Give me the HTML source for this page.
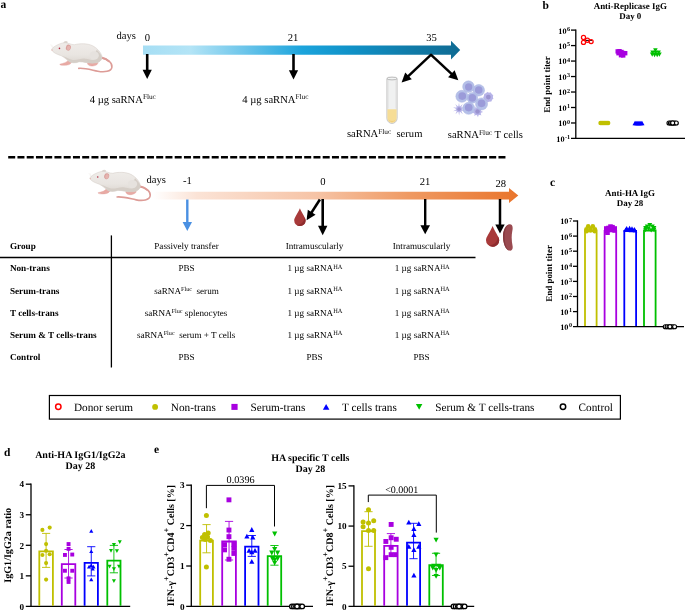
<!DOCTYPE html>
<html><head><meta charset="utf-8"><title>Figure</title>
<style>
html,body{margin:0;padding:0;background:#fff;}
body{width:685px;height:610px;overflow:hidden;font-family:"Liberation Serif",serif;}
svg{display:block;will-change:transform}
text{font-family:"Liberation Serif",serif;fill:#000;text-rendering:geometricPrecision}
.b{font-weight:bold}
</style></head><body>
<svg width="685" height="610" viewBox="0 0 685 610">
<defs>
<linearGradient id="gb" x1="0" x2="1" y1="0" y2="0">
<stop offset="0" stop-color="#a6def4"/><stop offset="0.15" stop-color="#b3e4f6"/><stop offset="0.32" stop-color="#6cc5ea"/><stop offset="0.5" stop-color="#1ca4dc"/><stop offset="0.65" stop-color="#1092c8"/><stop offset="0.85" stop-color="#107aa7"/><stop offset="1" stop-color="#0f6b93"/>
</linearGradient>
<linearGradient id="go" x1="0" x2="1" y1="0" y2="0">
<stop offset="0" stop-color="#ffffff"/><stop offset="0.12" stop-color="#fbe3d6"/><stop offset="0.45" stop-color="#f6c3a5"/><stop offset="0.7" stop-color="#ef9a63"/><stop offset="1" stop-color="#e9752c"/>
</linearGradient>
<linearGradient id="mb" x1="0" x2="0" y1="0" y2="1"><stop offset="0" stop-color="#efece9"/><stop offset="0.6" stop-color="#e9e5e1"/><stop offset="1" stop-color="#dcd6d0"/></linearGradient>
</defs>
<rect width="685" height="610" fill="#fff"/>

<text x="0.4" y="8.3" font-size="11.5" class="b">a</text>
<g transform="translate(40,30) scale(0.1314)">
<path d="M468 212 C520 222 552 252 547 284 C542 316 490 324 440 314 C390 304 340 288 295 292" fill="none" stroke="#dd9c97" stroke-width="12" stroke-linecap="round"/>
<path d="M466 210 C490 214 510 224 524 238" fill="none" stroke="#dd9c97" stroke-width="15" stroke-linecap="round"/>
<path d="M214 230 C206 246 180 253 150 260 C152 271 190 271 216 265 C230 261 240 252 244 240 Z" fill="#e8aaa4" stroke="#dfa09a" stroke-width="3" stroke-linejoin="round"/>
<path d="M362 250 C358 268 385 279 410 273 C432 268 444 258 440 243 Z" fill="#e8aaa4" stroke="#dfa09a" stroke-width="3"/>
<path d="M178 102 C180 84 202 78 212 92 C206 102 196 110 186 112 Z" fill="#dcd5cf"/>
<path d="M88 150 C95 130 135 108 175 98 C200 90 240 114 262 112 C300 102 360 100 400 120 C440 140 470 180 472 205 C474 230 450 248 420 252 C380 258 330 240 300 242 C270 254 235 252 218 238 C200 222 180 205 160 195 C130 185 95 170 88 150 Z" fill="url(#mb)" stroke="#d0c9c2" stroke-width="3.5" stroke-linejoin="round"/>
<path d="M432 150 C452 170 470 190 471 206 C473 230 450 247 420 251 C380 257 330 239 300 241 C270 252 240 250 226 242 C210 228 190 210 170 198 C200 205 225 225 250 228 C290 230 310 215 345 218 C375 222 395 232 415 226 C400 200 420 175 432 150 Z" fill="#d5cec7"/>
<ellipse cx="412" cy="194" rx="36" ry="32" fill="#e6e2de"/>
<ellipse cx="216" cy="134" rx="19" ry="23" fill="#d9a19d" transform="rotate(15 216 134)"/>
<ellipse cx="218" cy="136" rx="13" ry="17" fill="#e6b4b0" transform="rotate(15 218 136)"/>
<circle cx="148" cy="140" r="6" fill="#b02c44"/>
<circle cx="92" cy="152" r="5" fill="#eab8b4"/>
<path d="M98 140 L80 110 M100 142 L90 112" stroke="#e4dfda" stroke-width="2" fill="none"/>
</g>
<text x="116.5" y="39.3" font-size="10.6">days</text>
<text x="147.4" y="40.6" font-size="10.6" text-anchor="middle">0</text>
<text x="293" y="40.6" font-size="10.6" text-anchor="middle">21</text>
<text x="431.5" y="41" font-size="10.6" text-anchor="middle">35</text>
<path d="M143 45.5 H451 V40.8 L460.2 50.1 L451 59.5 V54.7 H143 Z" fill="url(#gb)"/>
<path d="M147.2 54 V70.7" stroke="#000" stroke-width="2.6" fill="none"/>
<path d="M142.6 69.7 H151.79999999999998 L147.2 78.9 Z" fill="#000"/>
<path d="M293.5 54 V71.3" stroke="#000" stroke-width="2.6" fill="none"/>
<path d="M288.9 70.3 H298.1 L293.5 79.6 Z" fill="#000"/>
<path d="M431.40 54.30 L407.78 76.57" stroke="#000" stroke-width="2.5" fill="none"/>
<path d="M405.22 72.39 L411.80 79.37 L401.60 82.40 Z" fill="#000"/>
<path d="M430.60 54.30 L452.09 74.39" stroke="#000" stroke-width="2.5" fill="none"/>
<path d="M448.08 77.22 L454.64 70.21 L458.30 80.20 Z" fill="#000"/>
<text x="89.7" y="102.8" font-size="10.6" text-anchor="start" xml:space="preserve">4 µg saRNA<tspan font-size="7.30" dy="-3.60">Fluc</tspan></text>
<text x="242.3" y="102.7" font-size="10.6" text-anchor="start" xml:space="preserve">4 µg saRNA<tspan font-size="7.30" dy="-3.60">Fluc</tspan></text>
<text x="347" y="136.9" font-size="10.6" text-anchor="start" xml:space="preserve">saRNA<tspan font-size="7.30" dy="-3.30">Fluc</tspan><tspan dy="3.30">  serum</tspan></text>
<text x="447.8" y="137.9" font-size="10.6" text-anchor="start" xml:space="preserve">saRNA<tspan font-size="7.40" dy="-3.30">Fluc</tspan><tspan dy="3.30"> T cells</tspan></text>
<g>
<path d="M386.9 78.6 V118.3 A5.1 5.1 0 0 0 397.1 118.3 V78.6 Z" fill="#f0f1f1" stroke="#b9b9b9" stroke-width="0.8"/>
<path d="M387.4 109.3 H396.6 V118.3 A4.6 4.6 0 0 1 387.4 118.3 Z" fill="#f6dd96"/>
<path d="M388.2 119.5 A4.2 4.2 0 0 0 395.8 119.5 A6 6 0 0 1 388.2 119.5 Z" fill="#efcb7a"/>
<path d="M388.4 80.5 V108.5 M395.6 80.5 V108.5" stroke="#e2e3e3" stroke-width="0.7" fill="none"/>
<ellipse cx="392" cy="78.5" rx="5.1" ry="1.4" fill="#f3f4f4" stroke="#a9a9a9" stroke-width="0.8"/>
</g>
<g>
<polygon points="493.59,98.70 491.53,99.48 491.33,101.68 489.25,100.95 487.69,102.51 486.56,100.61 484.37,100.80 484.72,98.62 482.92,97.36 484.59,95.92 484.02,93.79 486.23,93.76 487.16,91.76 488.87,93.16 490.87,92.23 491.28,94.40 493.41,94.97 492.33,96.89" fill="#bcb9ea"/>
<circle cx="488.37" cy="97.09" r="4.66" fill="#b7b4e8"/>
<circle cx="488.37" cy="97.09" r="2.41" fill="#9a93cf"/>
<polygon points="465.04,110.99 461.06,110.55 462.81,114.15 459.85,111.46 459.14,115.40 458.33,111.48 455.45,114.26 457.09,110.61 453.13,111.16 456.60,109.17 453.07,107.29 457.05,107.72 455.30,104.12 458.26,106.81 458.97,102.87 459.78,106.79 462.67,104.02 461.02,107.66 464.99,107.12 461.51,109.10" fill="#bcb9ea"/>
<circle cx="459.06" cy="109.14" r="2.89" fill="#b7b4e8"/>
<circle cx="459.06" cy="109.14" r="1.77" fill="#9a93cf"/>
<polygon points="483.12,112.11 480.36,112.91 481.45,115.57 478.82,114.41 477.95,117.15 476.68,114.57 474.25,116.11 474.93,113.31 472.08,112.93 474.41,111.23 472.47,109.11 475.34,109.30 475.22,106.42 477.30,108.41 479.05,106.13 479.36,109.00 482.18,108.38 480.57,110.77" fill="#bcb9ea"/>
<circle cx="477.53" cy="111.55" r="3.69" fill="#b7b4e8"/>
<circle cx="477.53" cy="111.55" r="2.25" fill="#9a93cf"/>
<circle cx="478.73" cy="90.26" r="5.78" fill="#b5c0e8" stroke="#a8b3e0" stroke-width="0.5"/>
<circle cx="478.73" cy="89.94" r="3.78" fill="#9b9bd9"/>
<circle cx="468.45" cy="86.65" r="5.78" fill="#b5c0e8" stroke="#a8b3e0" stroke-width="0.5"/>
<circle cx="468.69" cy="87.05" r="3.69" fill="#9b9bd9"/>
<circle cx="472.31" cy="97.89" r="5.30" fill="#b5c0e8" stroke="#a8b3e0" stroke-width="0.5"/>
<circle cx="472.31" cy="97.89" r="3.78" fill="#9b9bd9"/>
<circle cx="461.87" cy="96.29" r="6.02" fill="#b5c0e8" stroke="#a8b3e0" stroke-width="0.5"/>
<circle cx="462.27" cy="96.04" r="3.86" fill="#9b9bd9"/>
<circle cx="481.55" cy="103.92" r="6.02" fill="#b5c0e8" stroke="#a8b3e0" stroke-width="0.5"/>
<circle cx="481.55" cy="103.27" r="3.86" fill="#9b9bd9"/>
<circle cx="468.69" cy="108.33" r="6.02" fill="#b5c0e8" stroke="#a8b3e0" stroke-width="0.5"/>
<circle cx="468.69" cy="107.53" r="3.86" fill="#9b9bd9"/>
</g>
<path d="M8.2 157.3 H506" stroke="#000" stroke-width="2.6" stroke-dasharray="7 2.25" fill="none"/>
<g transform="translate(78.3,158.6) scale(0.1314)">
<path d="M468 212 C520 222 552 252 547 284 C542 316 490 324 440 314 C390 304 340 288 295 292" fill="none" stroke="#dd9c97" stroke-width="12" stroke-linecap="round"/>
<path d="M466 210 C490 214 510 224 524 238" fill="none" stroke="#dd9c97" stroke-width="15" stroke-linecap="round"/>
<path d="M214 230 C206 246 180 253 150 260 C152 271 190 271 216 265 C230 261 240 252 244 240 Z" fill="#e8aaa4" stroke="#dfa09a" stroke-width="3" stroke-linejoin="round"/>
<path d="M362 250 C358 268 385 279 410 273 C432 268 444 258 440 243 Z" fill="#e8aaa4" stroke="#dfa09a" stroke-width="3"/>
<path d="M178 102 C180 84 202 78 212 92 C206 102 196 110 186 112 Z" fill="#dcd5cf"/>
<path d="M88 150 C95 130 135 108 175 98 C200 90 240 114 262 112 C300 102 360 100 400 120 C440 140 470 180 472 205 C474 230 450 248 420 252 C380 258 330 240 300 242 C270 254 235 252 218 238 C200 222 180 205 160 195 C130 185 95 170 88 150 Z" fill="url(#mb)" stroke="#d0c9c2" stroke-width="3.5" stroke-linejoin="round"/>
<path d="M432 150 C452 170 470 190 471 206 C473 230 450 247 420 251 C380 257 330 239 300 241 C270 252 240 250 226 242 C210 228 190 210 170 198 C200 205 225 225 250 228 C290 230 310 215 345 218 C375 222 395 232 415 226 C400 200 420 175 432 150 Z" fill="#d5cec7"/>
<ellipse cx="412" cy="194" rx="36" ry="32" fill="#e6e2de"/>
<ellipse cx="216" cy="134" rx="19" ry="23" fill="#d9a19d" transform="rotate(15 216 134)"/>
<ellipse cx="218" cy="136" rx="13" ry="17" fill="#e6b4b0" transform="rotate(15 218 136)"/>
<circle cx="148" cy="140" r="6" fill="#b02c44"/>
<circle cx="92" cy="152" r="5" fill="#eab8b4"/>
<path d="M98 140 L80 110 M100 142 L90 112" stroke="#e4dfda" stroke-width="2" fill="none"/>
</g>
<text x="146.5" y="183" font-size="10.6">days</text>
<text x="187.5" y="184.3" font-size="10.6" text-anchor="middle">-1</text>
<text x="322.8" y="185.4" font-size="10.6" text-anchor="middle">0</text>
<text x="425" y="185" font-size="10.6" text-anchor="middle">21</text>
<text x="500.7" y="186.5" font-size="10.6" text-anchor="middle">28</text>
<path d="M153 191.7 H509 V188 L518.3 195.5 L509 203 V199.5 H153 Z" fill="url(#go)"/>
<path d="M187.3 199.5 V223" stroke="#4a90e2" stroke-width="2.4" fill="none"/>
<path d="M182.60000000000002 222 H192.0 L187.3 231 Z" fill="#4a90e2"/>
<path d="M322.7 199 V226.79999999999998" stroke="#000" stroke-width="2.6" fill="none"/>
<path d="M318.0 225.79999999999998 H327.4 L322.7 235.2 Z" fill="#000"/>
<path d="M319.90 199.50 L311.14 213.13" stroke="#000" stroke-width="2.6" fill="none"/>
<path d="M307.81 209.81 L315.55 214.78 L306.60 220.20 Z" fill="#000"/>
<path d="M425.2 199 V226.20000000000002" stroke="#000" stroke-width="2.4" fill="none"/>
<path d="M420.4 225.20000000000002 H430.0 L425.2 234.3 Z" fill="#000"/>
<path d="M299.9 208.3 C302.465 214.53 305.59999999999997 217.556 305.59999999999997 220.40000000000003 A5.7 5.7 0 0 1 294.2 220.40000000000003 C294.2 217.556 297.335 214.53 299.9 208.3 Z" fill="#a83a3a"/>
<path d="M305.59999999999997 220.40000000000003 A5.7 5.7 0 0 1 296.765 225.074 C301.60999999999996 224.675 304.745 220.97000000000003 304.46 216.98000000000002 C305.315 218.69000000000003 305.59999999999997 219.83 305.59999999999997 220.40000000000003 Z" fill="#8e2c2e"/>
<path d="M492.6 226 C495.57000000000005 233.28 499.20000000000005 236.816 499.20000000000005 240.20000000000002 A6.6 6.6 0 0 1 486.0 240.20000000000002 C486.0 236.816 489.63 233.28 492.6 226 Z" fill="#a83a3a"/>
<path d="M499.20000000000005 240.20000000000002 A6.6 6.6 0 0 1 488.97 245.61200000000002 C494.58000000000004 245.15 498.21000000000004 240.86 497.88 236.24 C498.87 238.22 499.20000000000005 239.54000000000002 499.20000000000005 240.20000000000002 Z" fill="#8e2c2e"/>
<path d="M509.5 224.2 C512.5 224 513.2 227 512.3 231 C511.3 236 511.6 241 512.6 246 C513.2 249.5 511.5 251.3 509 250.6 C505.5 249.5 503.2 243 503 237 C502.8 231 505.5 224.8 509.5 224.2 Z" fill="#9a4a50"/>
<path d="M509.5 224.2 C506 226 504.6 231 504.6 237 C504.6 243 506.5 248.5 509 250.6 C505.5 249.5 503.2 243 503 237 C502.8 231 505.5 224.8 509.5 224.2 Z" fill="#85393f"/>
<path d="M494.2 222.6 H505.8 L500 233.8 Z" fill="#fff"/>
<path d="M500 199 V225.4" stroke="#000" stroke-width="2.5" fill="none"/>
<path d="M495.3 224.4 H504.7 L500 233.6 Z" fill="#000"/>
<path d="M0 257.5 H475.5" stroke="#000" stroke-width="1.5" fill="none"/>
<path d="M111.4 235.4 V367.5" stroke="#000" stroke-width="1.3" fill="none"/>
<text x="9.9" y="249.3" font-size="9.2" class="b">Group</text>
<text x="9.9" y="271.3" font-size="9.2" class="b">Non-trans</text>
<text x="9.9" y="293.6" font-size="9.2" class="b">Serum-trans</text>
<text x="9.9" y="315.6" font-size="9.2" class="b">T cells-trans</text>
<text x="9.9" y="337.7" font-size="9.2" class="b">Serum &amp; T cells-trans</text>
<text x="9.9" y="359.9" font-size="9.2" class="b">Control</text>
<text x="186.5" y="249.3" font-size="9.1" text-anchor="middle">Passively transfer</text>
<text x="314.5" y="249.3" font-size="9.1" text-anchor="middle">Intramuscularly</text>
<text x="421.6" y="249.3" font-size="9.1" text-anchor="middle">Intramuscularly</text>
<text x="186.5" y="271.3" font-size="9.1" text-anchor="middle">PBS</text>
<text x="154.2" y="293.6" font-size="9.1" text-anchor="start" xml:space="preserve">saRNA<tspan font-size="6.20" dy="-2.80">Fluc</tspan><tspan dy="2.80">  serum</tspan></text>
<text x="144.8" y="315.6" font-size="9.1" text-anchor="start" xml:space="preserve">saRNA<tspan font-size="6.20" dy="-2.80">Fluc</tspan><tspan dy="2.80"> splenocytes</tspan></text>
<text x="136.9" y="337.7" font-size="9.1" text-anchor="start" xml:space="preserve">saRNA<tspan font-size="6.20" dy="-2.80">Fluc</tspan><tspan dy="2.80">  serum + T cells</tspan></text>
<text x="186.5" y="359.9" font-size="9.1" text-anchor="middle">PBS</text>
<text x="287.5" y="271.3" font-size="9.1" text-anchor="start" xml:space="preserve">1 µg saRNA<tspan font-size="6.40" dy="-2.70">HA</tspan></text>
<text x="394.8" y="271.3" font-size="9.1" text-anchor="start" xml:space="preserve">1 µg saRNA<tspan font-size="6.40" dy="-2.70">HA</tspan></text>
<text x="287.5" y="293.6" font-size="9.1" text-anchor="start" xml:space="preserve">1 µg saRNA<tspan font-size="6.40" dy="-2.70">HA</tspan></text>
<text x="394.8" y="293.6" font-size="9.1" text-anchor="start" xml:space="preserve">1 µg saRNA<tspan font-size="6.40" dy="-2.70">HA</tspan></text>
<text x="287.5" y="315.6" font-size="9.1" text-anchor="start" xml:space="preserve">1 µg saRNA<tspan font-size="6.40" dy="-2.70">HA</tspan></text>
<text x="394.8" y="315.6" font-size="9.1" text-anchor="start" xml:space="preserve">1 µg saRNA<tspan font-size="6.40" dy="-2.70">HA</tspan></text>
<text x="287.5" y="337.7" font-size="9.1" text-anchor="start" xml:space="preserve">1 µg saRNA<tspan font-size="6.40" dy="-2.70">HA</tspan></text>
<text x="394.8" y="337.7" font-size="9.1" text-anchor="start" xml:space="preserve">1 µg saRNA<tspan font-size="6.40" dy="-2.70">HA</tspan></text>
<text x="314.5" y="359.9" font-size="9.1" text-anchor="middle">PBS</text>
<text x="421.6" y="359.9" font-size="9.1" text-anchor="middle">PBS</text>
<rect x="49.4" y="395.5" width="571" height="23.6" fill="#fff" stroke="#000" stroke-width="1.2"/>
<circle cx="58.3" cy="406.75" r="2.7" fill="#fff" stroke="#ff0000" stroke-width="1.5"/>
<text x="74" y="410.8" font-size="11.25">Donor serum</text>
<circle cx="155.1" cy="406.9" r="2.9" fill="#c0c000"/>
<text x="170.8" y="410.8" font-size="11.25">Non-trans</text>
<rect x="231.4" y="403.9" width="6.2" height="6" fill="#a800e0"/>
<text x="250.4" y="410.8" font-size="11.25">Serum-trans</text>
<path d="M322.9 409.8 H329.4 L326.15 404 Z" fill="#0000ff"/>
<text x="342" y="410.8" font-size="11.25">T cells trans</text>
<path d="M415.9 403.9 H422.4 L419.15 409.8 Z" fill="#00c000"/>
<text x="435.2" y="410.8" font-size="11.25">Serum &amp; T cells-trans</text>
<circle cx="563" cy="406.75" r="2.7" fill="#fff" stroke="#000" stroke-width="1.5"/>
<text x="578.5" y="410.8" font-size="11.25">Control</text>
<text x="542.5" y="8.5" font-size="11.5" class="b">b</text>
<text x="630.3" y="8.8" font-size="8.95" class="b" text-anchor="middle">Anti-Replicase IgG</text>
<text x="630.3" y="18.6" font-size="8.95" class="b" text-anchor="middle">Day 0</text>
<path d="M575.8 29.450000000000003 V138.46" stroke="#000" stroke-width="1.3" fill="none"/>
<path d="M571.0 138.46 H685" stroke="#000" stroke-width="1.3" fill="none"/>
<path d="M571.0 30.1 H575.8" stroke="#000" stroke-width="1.3" fill="none"/>
<text x="570.2" y="33.50" font-size="8.3" class="b" text-anchor="end">10<tspan font-size="6.2" dy="-2.7" dx="0.5">6</tspan></text>
<path d="M571.0 45.58 H575.8" stroke="#000" stroke-width="1.3" fill="none"/>
<text x="570.2" y="48.98" font-size="8.3" class="b" text-anchor="end">10<tspan font-size="6.2" dy="-2.7" dx="0.5">5</tspan></text>
<path d="M571.0 61.06 H575.8" stroke="#000" stroke-width="1.3" fill="none"/>
<text x="570.2" y="64.46" font-size="8.3" class="b" text-anchor="end">10<tspan font-size="6.2" dy="-2.7" dx="0.5">4</tspan></text>
<path d="M571.0 76.53999999999999 H575.8" stroke="#000" stroke-width="1.3" fill="none"/>
<text x="570.2" y="79.94" font-size="8.3" class="b" text-anchor="end">10<tspan font-size="6.2" dy="-2.7" dx="0.5">3</tspan></text>
<path d="M571.0 92.02000000000001 H575.8" stroke="#000" stroke-width="1.3" fill="none"/>
<text x="570.2" y="95.42" font-size="8.3" class="b" text-anchor="end">10<tspan font-size="6.2" dy="-2.7" dx="0.5">2</tspan></text>
<path d="M571.0 107.5 H575.8" stroke="#000" stroke-width="1.3" fill="none"/>
<text x="570.2" y="110.90" font-size="8.3" class="b" text-anchor="end">10<tspan font-size="6.2" dy="-2.7" dx="0.5">1</tspan></text>
<path d="M571.0 122.97999999999999 H575.8" stroke="#000" stroke-width="1.3" fill="none"/>
<text x="570.2" y="126.38" font-size="8.3" class="b" text-anchor="end">10<tspan font-size="6.2" dy="-2.7" dx="0.5">0</tspan></text>
<text x="570.2" y="141.86" font-size="8.3" class="b" text-anchor="end">10<tspan font-size="6.2" dy="-2.7" dx="0.5">-1</tspan></text>
<text transform="translate(550.4,84.5) rotate(-90)" font-size="8.95" class="b" text-anchor="middle">End point titer</text>
<path d="M585.6 40.4 H592" stroke="#000" stroke-width="1"/>
<circle cx="583.5" cy="37.5" r="2.05" fill="none" stroke="#ff0000" stroke-width="1.25"/>
<circle cx="583.5" cy="42.4" r="2.05" fill="none" stroke="#ff0000" stroke-width="1.25"/>
<circle cx="587.4" cy="40.2" r="2.05" fill="none" stroke="#ff0000" stroke-width="1.25"/>
<circle cx="591.1" cy="41.6" r="2.05" fill="none" stroke="#ff0000" stroke-width="1.25"/>
<circle cx="600.5" cy="123.0" r="2.2" fill="#c0c000"/>
<circle cx="601.6" cy="123.0" r="2.2" fill="#c0c000"/>
<circle cx="602.7" cy="123.0" r="2.2" fill="#c0c000"/>
<circle cx="603.8" cy="123.0" r="2.2" fill="#c0c000"/>
<circle cx="604.9" cy="123.0" r="2.2" fill="#c0c000"/>
<circle cx="606.0" cy="123.0" r="2.2" fill="#c0c000"/>
<circle cx="607.1" cy="123.0" r="2.2" fill="#c0c000"/>
<circle cx="608.2" cy="123.0" r="2.2" fill="#c0c000"/>
<rect x="615.5" y="49.2" width="4.4" height="4.4" fill="#a800e0"/>
<rect x="617.3" y="49.0" width="4.4" height="4.4" fill="#a800e0"/>
<rect x="619.3" y="49.8" width="4.4" height="4.4" fill="#a800e0"/>
<rect x="620.8" y="50.8" width="4.4" height="4.4" fill="#a800e0"/>
<rect x="623.0" y="51.0" width="4.4" height="4.4" fill="#a800e0"/>
<rect x="618.8" y="53.0" width="4.4" height="4.4" fill="#a800e0"/>
<rect x="621.0" y="53.2" width="4.4" height="4.4" fill="#a800e0"/>
<rect x="616.3" y="51.0" width="4.4" height="4.4" fill="#a800e0"/>
<path d="M632.5 125.3 H637.5 L635.0 120.8 Z" fill="#0000ff"/>
<path d="M633.5 125.3 H638.5 L636.0 120.8 Z" fill="#0000ff"/>
<path d="M634.5 125.3 H639.5 L637.0 120.8 Z" fill="#0000ff"/>
<path d="M635.5 125.3 H640.5 L638.0 120.8 Z" fill="#0000ff"/>
<path d="M636.5 125.3 H641.5 L639.0 120.8 Z" fill="#0000ff"/>
<path d="M637.5 125.3 H642.5 L640.0 120.8 Z" fill="#0000ff"/>
<path d="M638.5 125.3 H643.5 L641.0 120.8 Z" fill="#0000ff"/>
<path d="M639.5 125.3 H644.5 L642.0 120.8 Z" fill="#0000ff"/>
<path d="M653.1 48.3 H657.7 L655.4 52.5 Z" fill="#00c000"/>
<path d="M650.3 50.5 H654.9 L652.6 54.7 Z" fill="#00c000"/>
<path d="M653.3 50.8 H657.9 L655.6 55.0 Z" fill="#00c000"/>
<path d="M656.3 50.5 H660.9 L658.6 54.7 Z" fill="#00c000"/>
<path d="M649.9 52.5 H654.5 L652.2 56.7 Z" fill="#00c000"/>
<path d="M652.3 53.0 H656.9 L654.6 57.2 Z" fill="#00c000"/>
<path d="M654.9 53.0 H659.5 L657.2 57.2 Z" fill="#00c000"/>
<path d="M657.1 52.5 H661.7 L659.4 56.7 Z" fill="#00c000"/>
<circle cx="669.00" cy="122.97999999999999" r="2.0" fill="#fff" stroke="#000" stroke-width="1.15"/>
<circle cx="670.46" cy="122.97999999999999" r="2.0" fill="#fff" stroke="#000" stroke-width="1.15"/>
<circle cx="671.92" cy="122.97999999999999" r="2.0" fill="#fff" stroke="#000" stroke-width="1.15"/>
<circle cx="673.38" cy="122.97999999999999" r="2.0" fill="#fff" stroke="#000" stroke-width="1.15"/>
<circle cx="674.84" cy="122.97999999999999" r="2.0" fill="#fff" stroke="#000" stroke-width="1.15"/>
<circle cx="676.30" cy="122.97999999999999" r="2.0" fill="#fff" stroke="#000" stroke-width="1.15"/>
<circle cx="672.65" cy="122.97999999999999" r="2.0" fill="#fff" stroke="#000" stroke-width="1.15"/>
<text x="550" y="186" font-size="11.5" class="b">c</text>
<text x="630" y="196" font-size="8.95" class="b" text-anchor="middle">Anti-HA IgG</text>
<text x="630" y="205.7" font-size="8.95" class="b" text-anchor="middle">Day 28</text>
<path d="M577.5 220.35 V326.7" stroke="#000" stroke-width="1.3" fill="none"/>
<path d="M573.0 326.7 H684" stroke="#000" stroke-width="1.3" fill="none"/>
<path d="M573.0 221.0 H577.5" stroke="#000" stroke-width="1.3" fill="none"/>
<text x="572.1" y="224.40" font-size="8.3" class="b" text-anchor="end">10<tspan font-size="6.2" dy="-2.7" dx="0.5">7</tspan></text>
<path d="M573.0 236.1 H577.5" stroke="#000" stroke-width="1.3" fill="none"/>
<text x="572.1" y="239.50" font-size="8.3" class="b" text-anchor="end">10<tspan font-size="6.2" dy="-2.7" dx="0.5">6</tspan></text>
<path d="M573.0 251.2 H577.5" stroke="#000" stroke-width="1.3" fill="none"/>
<text x="572.1" y="254.60" font-size="8.3" class="b" text-anchor="end">10<tspan font-size="6.2" dy="-2.7" dx="0.5">5</tspan></text>
<path d="M573.0 266.3 H577.5" stroke="#000" stroke-width="1.3" fill="none"/>
<text x="572.1" y="269.70" font-size="8.3" class="b" text-anchor="end">10<tspan font-size="6.2" dy="-2.7" dx="0.5">4</tspan></text>
<path d="M573.0 281.4 H577.5" stroke="#000" stroke-width="1.3" fill="none"/>
<text x="572.1" y="284.80" font-size="8.3" class="b" text-anchor="end">10<tspan font-size="6.2" dy="-2.7" dx="0.5">3</tspan></text>
<path d="M573.0 296.5 H577.5" stroke="#000" stroke-width="1.3" fill="none"/>
<text x="572.1" y="299.90" font-size="8.3" class="b" text-anchor="end">10<tspan font-size="6.2" dy="-2.7" dx="0.5">2</tspan></text>
<path d="M573.0 311.6 H577.5" stroke="#000" stroke-width="1.3" fill="none"/>
<text x="572.1" y="315.00" font-size="8.3" class="b" text-anchor="end">10<tspan font-size="6.2" dy="-2.7" dx="0.5">1</tspan></text>
<text x="572.1" y="330.10" font-size="8.3" class="b" text-anchor="end">10<tspan font-size="6.2" dy="-2.7" dx="0.5">0</tspan></text>
<text transform="translate(551.9,273.4) rotate(-90)" font-size="8.95" class="b" text-anchor="middle">End point titer</text>
<path d="M585 326.09999999999997 V231 H596.6 V326.09999999999997" fill="none" stroke="#c0c000" stroke-width="1.8"/>
<path d="M604.6 326.09999999999997 V231 H616.2 V326.09999999999997" fill="none" stroke="#a800e0" stroke-width="1.8"/>
<path d="M624.3 326.09999999999997 V231 H636.1 V326.09999999999997" fill="none" stroke="#0000ff" stroke-width="1.8"/>
<path d="M644 326.09999999999997 V230.5 H655.6 V326.09999999999997" fill="none" stroke="#00c000" stroke-width="1.8"/>
<circle cx="588.2" cy="226.3" r="2.3" fill="#c0c000"/>
<circle cx="592.8" cy="226.3" r="2.3" fill="#c0c000"/>
<circle cx="586.4" cy="229.3" r="2.3" fill="#c0c000"/>
<circle cx="590.5" cy="228.8" r="2.3" fill="#c0c000"/>
<circle cx="594.9" cy="229.3" r="2.3" fill="#c0c000"/>
<circle cx="586.6" cy="231.3" r="2.3" fill="#c0c000"/>
<circle cx="594.7" cy="231.3" r="2.3" fill="#c0c000"/>
<circle cx="590.5" cy="230.5" r="2.3" fill="#c0c000"/>
<rect x="608.2" y="224.3" width="4.6" height="4.6" fill="#a800e0"/>
<rect x="610.2" y="224.9" width="4.6" height="4.6" fill="#a800e0"/>
<rect x="604.0" y="226.2" width="4.6" height="4.6" fill="#a800e0"/>
<rect x="606.2" y="225.7" width="4.6" height="4.6" fill="#a800e0"/>
<rect x="612.4" y="226.2" width="4.6" height="4.6" fill="#a800e0"/>
<rect x="604.0" y="228.7" width="4.6" height="4.6" fill="#a800e0"/>
<rect x="612.4" y="228.2" width="4.6" height="4.6" fill="#a800e0"/>
<rect x="605.2" y="230.4" width="4.6" height="4.6" fill="#a800e0"/>
<rect x="608.7" y="227.7" width="4.6" height="4.6" fill="#a800e0"/>
<path d="M624.4 230.2 H629.0 L626.7 226.0 Z" fill="#0000ff"/>
<path d="M627.3 229.9 H631.9 L629.6 225.7 Z" fill="#0000ff"/>
<path d="M629.7 230.5 H634.3 L632.0 226.3 Z" fill="#0000ff"/>
<path d="M632.0 231.1 H636.6 L634.3 226.9 Z" fill="#0000ff"/>
<path d="M623.3 231.7 H627.9 L625.6 227.5 Z" fill="#0000ff"/>
<path d="M625.7 231.9 H630.3 L628.0 227.7 Z" fill="#0000ff"/>
<path d="M628.7 232.2 H633.3 L631.0 228.0 Z" fill="#0000ff"/>
<path d="M632.7 232.4 H637.3 L635.0 228.2 Z" fill="#0000ff"/>
<path d="M647.4 223.0 H652.2 L649.8 227.4 Z" fill="#00c000"/>
<path d="M644.8 224.4 H649.6 L647.2 228.8 Z" fill="#00c000"/>
<path d="M650.0 224.4 H654.8 L652.4 228.8 Z" fill="#00c000"/>
<path d="M643.2 226.0 H648.0 L645.6 230.4 Z" fill="#00c000"/>
<path d="M651.6 226.0 H656.4 L654.0 230.4 Z" fill="#00c000"/>
<path d="M643.1 227.8 H647.9 L645.5 232.2 Z" fill="#00c000"/>
<path d="M651.6 227.8 H656.4 L654.0 232.2 Z" fill="#00c000"/>
<path d="M648.8 228.2 H653.6 L651.2 232.6 Z" fill="#00c000"/>
<path d="M646.1 226.5 H650.9 L648.5 230.9 Z" fill="#00c000"/>
<circle cx="665.30" cy="326.7" r="2.0" fill="#fff" stroke="#000" stroke-width="1.15"/>
<circle cx="667.16" cy="326.7" r="2.0" fill="#fff" stroke="#000" stroke-width="1.15"/>
<circle cx="669.02" cy="326.7" r="2.0" fill="#fff" stroke="#000" stroke-width="1.15"/>
<circle cx="670.88" cy="326.7" r="2.0" fill="#fff" stroke="#000" stroke-width="1.15"/>
<circle cx="672.74" cy="326.7" r="2.0" fill="#fff" stroke="#000" stroke-width="1.15"/>
<circle cx="674.60" cy="326.7" r="2.0" fill="#fff" stroke="#000" stroke-width="1.15"/>
<circle cx="669.95" cy="326.7" r="2.0" fill="#fff" stroke="#000" stroke-width="1.15"/>
<text x="4" y="456" font-size="11.5" class="b">d</text>
<text x="80.3" y="457.8" font-size="10" class="b" text-anchor="middle">Anti-HA IgG1/IgG2a</text>
<text x="80.3" y="468.6" font-size="10" class="b" text-anchor="middle">Day 28</text>
<text transform="translate(10.6,545.3) rotate(-90)" font-size="10.1" class="b" text-anchor="middle">IgG1/IgG2a ratio</text>
<path d="M31 483.55 V606.4" stroke="#000" stroke-width="1.3" fill="none"/>
<path d="M25.8 606.4 H130.2" stroke="#000" stroke-width="1.3" fill="none"/>
<path d="M25.8 484.20 H31" stroke="#000" stroke-width="1.3" fill="none"/>
<text x="24" y="487.40" font-size="9.2" class="b" text-anchor="end">4</text>
<path d="M25.8 514.75 H31" stroke="#000" stroke-width="1.3" fill="none"/>
<text x="24" y="517.95" font-size="9.2" class="b" text-anchor="end">3</text>
<path d="M25.8 545.30 H31" stroke="#000" stroke-width="1.3" fill="none"/>
<text x="24" y="548.50" font-size="9.2" class="b" text-anchor="end">2</text>
<path d="M25.8 575.85 H31" stroke="#000" stroke-width="1.3" fill="none"/>
<text x="24" y="579.05" font-size="9.2" class="b" text-anchor="end">1</text>
<text x="24" y="609.60" font-size="9.2" class="b" text-anchor="end">0</text>
<path d="M46.099999999999994 533.4 V567.4 M41.99999999999999 533.4 H50.199999999999996 M41.99999999999999 567.4 H50.199999999999996" stroke="#c0c000" stroke-width="0.9" fill="none"/>
<path d="M39.3 605.8 V551.3 H52.9 V605.8" fill="none" stroke="#c0c000" stroke-width="1.8"/>
<path d="M68.55 549.5 V578 M64.45 549.5 H72.64999999999999 M64.45 578 H72.64999999999999" stroke="#a800e0" stroke-width="0.9" fill="none"/>
<path d="M61.8 605.8 V564.1 H75.3 V605.8" fill="none" stroke="#a800e0" stroke-width="1.8"/>
<path d="M91.25 546.7 V575.9 M87.15 546.7 H95.35 M87.15 575.9 H95.35" stroke="#0000ff" stroke-width="0.9" fill="none"/>
<path d="M84.60000000000001 605.8 V562.9 H97.89999999999999 V605.8" fill="none" stroke="#0000ff" stroke-width="1.8"/>
<path d="M113.9 545.4 V572.8 M109.80000000000001 545.4 H118.0 M109.80000000000001 572.8 H118.0" stroke="#00c000" stroke-width="0.9" fill="none"/>
<path d="M107.30000000000001 605.8 V560.6999999999999 H120.5 V605.8" fill="none" stroke="#00c000" stroke-width="1.8"/>
<circle cx="42.4" cy="529.9" r="2.05" fill="#c0c000"/>
<circle cx="49.7" cy="527.6" r="2.05" fill="#c0c000"/>
<circle cx="46.1" cy="544.1" r="2.05" fill="#c0c000"/>
<circle cx="46.1" cy="550.7" r="2.05" fill="#c0c000"/>
<circle cx="42.4" cy="555.0" r="2.05" fill="#c0c000"/>
<circle cx="49.7" cy="554.3" r="2.05" fill="#c0c000"/>
<circle cx="46.1" cy="563.1" r="2.05" fill="#c0c000"/>
<circle cx="46.1" cy="579.6" r="2.05" fill="#c0c000"/>
<rect x="66.6" y="542.1" width="3.9" height="3.9" fill="#a800e0"/>
<rect x="66.6" y="546.9" width="3.9" height="3.9" fill="#a800e0"/>
<rect x="63.0" y="553.0" width="3.9" height="3.9" fill="#a800e0"/>
<rect x="70.3" y="552.6" width="3.9" height="3.9" fill="#a800e0"/>
<rect x="63.0" y="568.8" width="3.9" height="3.9" fill="#a800e0"/>
<rect x="70.3" y="568.8" width="3.9" height="3.9" fill="#a800e0"/>
<rect x="66.6" y="576.4" width="3.9" height="3.9" fill="#a800e0"/>
<rect x="66.6" y="580.0" width="3.9" height="3.9" fill="#a800e0"/>
<path d="M89.2 532.7 H93.3 L91.3 529.0 Z" fill="#0000ff"/>
<path d="M89.2 553.1 H93.3 L91.3 549.4 Z" fill="#0000ff"/>
<path d="M87.0 568.4 H91.1 L89.1 564.7 Z" fill="#0000ff"/>
<path d="M91.5 568.4 H95.5 L93.5 564.7 Z" fill="#0000ff"/>
<path d="M89.2 567.0 H93.3 L91.3 563.2 Z" fill="#0000ff"/>
<path d="M90.8 570.6 H94.8 L92.8 566.9 Z" fill="#0000ff"/>
<path d="M89.2 581.3 H93.3 L91.3 577.6 Z" fill="#0000ff"/>
<path d="M117.8 540.2 H121.8 L119.8 543.9 Z" fill="#00c000"/>
<path d="M111.9 543.1 H116.0 L113.9 546.8 Z" fill="#00c000"/>
<path d="M109.0 549.0 H113.0 L111.0 552.8 Z" fill="#00c000"/>
<path d="M114.9 549.3 H119.0 L116.9 553.0 Z" fill="#00c000"/>
<path d="M107.5 564.7 H111.6 L109.6 568.4 Z" fill="#00c000"/>
<path d="M117.0 564.7 H121.0 L119.0 568.4 Z" fill="#00c000"/>
<path d="M111.9 567.2 H116.0 L113.9 570.9 Z" fill="#00c000"/>
<path d="M111.9 579.3 H116.0 L113.9 583.0 Z" fill="#00c000"/>
<text x="154" y="453.3" font-size="11.5" class="b">e</text>
<text x="310.3" y="460.6" font-size="10" class="b" text-anchor="middle">HA specific T cells</text>
<text x="310.3" y="471.8" font-size="10" class="b" text-anchor="middle">Day 28</text>
<text transform="translate(174.4,545.6) rotate(-90)" font-size="10" class="b" text-anchor="middle">IFN-γ<tspan font-size="8.4" dy="-5">+</tspan><tspan dy="5">CD3</tspan><tspan font-size="8.4" dy="-5">+</tspan><tspan dy="5">CD4</tspan><tspan font-size="8.4" dy="-5">+</tspan><tspan dy="5"> Cells [%]</tspan></text>
<path d="M191.3 484.55 V606.4" stroke="#000" stroke-width="1.3" fill="none"/>
<path d="M186.2 606.4 H313" stroke="#000" stroke-width="1.3" fill="none"/>
<path d="M186.2 485.20 H191.3" stroke="#000" stroke-width="1.3" fill="none"/>
<text x="184.7" y="488.40" font-size="9.2" class="b" text-anchor="end">3</text>
<path d="M186.2 525.60 H191.3" stroke="#000" stroke-width="1.3" fill="none"/>
<text x="184.7" y="528.80" font-size="9.2" class="b" text-anchor="end">2</text>
<path d="M186.2 566.00 H191.3" stroke="#000" stroke-width="1.3" fill="none"/>
<text x="184.7" y="569.20" font-size="9.2" class="b" text-anchor="end">1</text>
<text x="184.7" y="609.60" font-size="9.2" class="b" text-anchor="end">0</text>
<path d="M206.55 524.6 V552.8 M202.45000000000002 524.6 H210.65 M202.45000000000002 552.8 H210.65" stroke="#c0c000" stroke-width="0.9" fill="none"/>
<path d="M200.20000000000002 605.8 V540.6999999999999 H212.9 V605.8" fill="none" stroke="#c0c000" stroke-width="1.8"/>
<path d="M229.05 521.4 V560 M224.95000000000002 521.4 H233.15 M224.95000000000002 560 H233.15" stroke="#a800e0" stroke-width="0.9" fill="none"/>
<path d="M222.20000000000002 605.8 V541.5 H235.9 V605.8" fill="none" stroke="#a800e0" stroke-width="1.8"/>
<path d="M251.79999999999998 535.5 V556.4 M247.7 535.5 H255.89999999999998 M247.7 556.4 H255.89999999999998" stroke="#0000ff" stroke-width="0.9" fill="none"/>
<path d="M245.1 605.8 V546.6999999999999 H258.5 V605.8" fill="none" stroke="#0000ff" stroke-width="1.8"/>
<path d="M274.45000000000005 545.5 V565.2 M270.35 545.5 H278.55000000000007 M270.35 565.2 H278.55000000000007" stroke="#00c000" stroke-width="0.9" fill="none"/>
<path d="M267.7 605.8 V556.1999999999999 H281.20000000000005 V605.8" fill="none" stroke="#00c000" stroke-width="1.8"/>
<path d="M206.4 508.2 V485.4 H274.5 V526.5" stroke="#000" stroke-width="1" fill="none"/>
<text x="240.6" y="483.2" font-size="10.2" text-anchor="middle">0.0396</text>
<circle cx="206.4" cy="515.5" r="2.5" fill="#c0c000"/>
<circle cx="208.2" cy="533.1" r="2.5" fill="#c0c000"/>
<circle cx="204.6" cy="534.5" r="2.5" fill="#c0c000"/>
<circle cx="202.4" cy="537.4" r="2.5" fill="#c0c000"/>
<circle cx="205.3" cy="539.6" r="2.5" fill="#c0c000"/>
<circle cx="210.4" cy="540.4" r="2.5" fill="#c0c000"/>
<circle cx="207.5" cy="537.0" r="2.5" fill="#c0c000"/>
<circle cx="206.4" cy="567.1" r="2.5" fill="#c0c000"/>
<rect x="226.5" y="497.4" width="4.9" height="4.9" fill="#a800e0"/>
<rect x="226.5" y="527.6" width="4.9" height="4.9" fill="#a800e0"/>
<rect x="226.5" y="534.2" width="4.9" height="4.9" fill="#a800e0"/>
<rect x="222.1" y="542.2" width="4.9" height="4.9" fill="#a800e0"/>
<rect x="231.4" y="541.8" width="4.9" height="4.9" fill="#a800e0"/>
<rect x="222.1" y="547.4" width="4.9" height="4.9" fill="#a800e0"/>
<rect x="231.4" y="545.9" width="4.9" height="4.9" fill="#a800e0"/>
<rect x="231.4" y="551.0" width="4.9" height="4.9" fill="#a800e0"/>
<rect x="226.5" y="556.8" width="4.9" height="4.9" fill="#a800e0"/>
<path d="M249.2 531.9 H254.4 L251.8 527.1 Z" fill="#0000ff"/>
<path d="M244.3 538.6 H249.5 L246.9 533.8 Z" fill="#0000ff"/>
<path d="M250.2 539.6 H255.4 L252.8 534.8 Z" fill="#0000ff"/>
<path d="M246.5 552.8 H251.7 L249.1 548.0 Z" fill="#0000ff"/>
<path d="M252.4 552.8 H257.6 L255.0 548.0 Z" fill="#0000ff"/>
<path d="M249.2 554.2 H254.4 L251.8 549.4 Z" fill="#0000ff"/>
<path d="M249.2 563.7 H254.4 L251.8 558.9 Z" fill="#0000ff"/>
<path d="M272.1 531.6 H277.3 L274.7 536.4 Z" fill="#00c000"/>
<path d="M272.1 546.9 H277.3 L274.7 551.7 Z" fill="#00c000"/>
<path d="M269.2 550.6 H274.4 L271.8 555.4 Z" fill="#00c000"/>
<path d="M275.0 550.6 H280.2 L277.6 555.4 Z" fill="#00c000"/>
<path d="M269.9 556.4 H275.1 L272.5 561.2 Z" fill="#00c000"/>
<path d="M272.1 557.8 H277.3 L274.7 562.6 Z" fill="#00c000"/>
<path d="M275.0 556.4 H280.2 L277.6 561.2 Z" fill="#00c000"/>
<path d="M272.1 560.8 H277.3 L274.7 565.6 Z" fill="#00c000"/>
<circle cx="291.90" cy="606.4" r="2.3" fill="#fff" stroke="#000" stroke-width="1.3"/>
<circle cx="293.96" cy="606.4" r="2.3" fill="#fff" stroke="#000" stroke-width="1.3"/>
<circle cx="296.02" cy="606.4" r="2.3" fill="#fff" stroke="#000" stroke-width="1.3"/>
<circle cx="298.08" cy="606.4" r="2.3" fill="#fff" stroke="#000" stroke-width="1.3"/>
<circle cx="300.14" cy="606.4" r="2.3" fill="#fff" stroke="#000" stroke-width="1.3"/>
<circle cx="302.20" cy="606.4" r="2.3" fill="#fff" stroke="#000" stroke-width="1.3"/>
<circle cx="297.05" cy="606.4" r="2.3" fill="#fff" stroke="#000" stroke-width="1.3"/>
<text transform="translate(333,545.6) rotate(-90)" font-size="10" class="b" text-anchor="middle">IFN-γ<tspan font-size="8.4" dy="-5">+</tspan><tspan dy="5">CD3</tspan><tspan font-size="8.4" dy="-5">+</tspan><tspan dy="5">CD8</tspan><tspan font-size="8.4" dy="-5">+</tspan><tspan dy="5"> Cells [%]</tspan></text>
<path d="M353.9 485.25 V606.4" stroke="#000" stroke-width="1.3" fill="none"/>
<path d="M348.5 606.4 H474.2" stroke="#000" stroke-width="1.3" fill="none"/>
<path d="M348.5 485.90 H353.9" stroke="#000" stroke-width="1.3" fill="none"/>
<text x="346.6" y="489.10" font-size="9.2" class="b" text-anchor="end">15</text>
<path d="M348.5 526.07 H353.9" stroke="#000" stroke-width="1.3" fill="none"/>
<text x="346.6" y="529.27" font-size="9.2" class="b" text-anchor="end">10</text>
<path d="M348.5 566.23 H353.9" stroke="#000" stroke-width="1.3" fill="none"/>
<text x="346.6" y="569.43" font-size="9.2" class="b" text-anchor="end">5</text>
<text x="346.6" y="609.60" font-size="9.2" class="b" text-anchor="end">0</text>
<path d="M368.5 511.7 V546.3 M364.4 511.7 H372.6 M364.4 546.3 H372.6" stroke="#c0c000" stroke-width="0.9" fill="none"/>
<path d="M362.0 605.8 V531.1 H375.0 V605.8" fill="none" stroke="#c0c000" stroke-width="1.8"/>
<path d="M390.9 533.6 V556 M386.79999999999995 533.6 H395.0 M386.79999999999995 556 H395.0" stroke="#a800e0" stroke-width="0.9" fill="none"/>
<path d="M384.2 605.8 V545.8 H397.6 V605.8" fill="none" stroke="#a800e0" stroke-width="1.8"/>
<path d="M413.55 523.3 V558.7 M409.45 523.3 H417.65000000000003 M409.45 558.7 H417.65000000000003" stroke="#0000ff" stroke-width="0.9" fill="none"/>
<path d="M407.0 605.8 V542.6 H420.1 V605.8" fill="none" stroke="#0000ff" stroke-width="1.8"/>
<path d="M436.04999999999995 553.3 V575.5 M431.94999999999993 553.3 H440.15 M431.94999999999993 575.5 H440.15" stroke="#00c000" stroke-width="0.9" fill="none"/>
<path d="M429.29999999999995 605.8 V565.1 H442.8 V605.8" fill="none" stroke="#00c000" stroke-width="1.8"/>
<path d="M368.3 502.1 V495.1 H436.3 V532.6" stroke="#000" stroke-width="1" fill="none"/>
<text x="401.8" y="493" font-size="10" text-anchor="middle">&lt;0.0001</text>
<circle cx="368.5" cy="509.7" r="2.5" fill="#c0c000"/>
<circle cx="363.1" cy="522.0" r="2.5" fill="#c0c000"/>
<circle cx="373.7" cy="520.8" r="2.5" fill="#c0c000"/>
<circle cx="368.5" cy="523.0" r="2.5" fill="#c0c000"/>
<circle cx="363.1" cy="526.7" r="2.5" fill="#c0c000"/>
<circle cx="368.5" cy="530.4" r="2.5" fill="#c0c000"/>
<circle cx="373.7" cy="530.4" r="2.5" fill="#c0c000"/>
<circle cx="368.5" cy="568.7" r="2.5" fill="#c0c000"/>
<rect x="388.7" y="522.0" width="4.9" height="4.9" fill="#a800e0"/>
<rect x="388.7" y="535.3" width="4.9" height="4.9" fill="#a800e0"/>
<rect x="393.8" y="536.8" width="4.9" height="4.9" fill="#a800e0"/>
<rect x="383.4" y="539.0" width="4.9" height="4.9" fill="#a800e0"/>
<rect x="388.7" y="544.9" width="4.9" height="4.9" fill="#a800e0"/>
<rect x="388.7" y="552.2" width="4.9" height="4.9" fill="#a800e0"/>
<rect x="393.1" y="552.2" width="4.9" height="4.9" fill="#a800e0"/>
<rect x="383.4" y="555.2" width="4.9" height="4.9" fill="#a800e0"/>
<path d="M406.2 524.5 H411.4 L408.8 519.7 Z" fill="#0000ff"/>
<path d="M416.2 526.0 H421.4 L418.8 521.2 Z" fill="#0000ff"/>
<path d="M411.3 531.1 H416.5 L413.9 526.3 Z" fill="#0000ff"/>
<path d="M411.3 537.0 H416.5 L413.9 532.2 Z" fill="#0000ff"/>
<path d="M406.2 548.8 H411.4 L408.8 544.0 Z" fill="#0000ff"/>
<path d="M416.2 548.8 H421.4 L418.8 544.0 Z" fill="#0000ff"/>
<path d="M411.3 552.1 H416.5 L413.9 547.3 Z" fill="#0000ff"/>
<path d="M411.3 577.6 H416.5 L413.9 572.8 Z" fill="#0000ff"/>
<path d="M433.5 537.8 H438.7 L436.1 542.6 Z" fill="#00c000"/>
<path d="M433.5 552.5 H438.7 L436.1 557.3 Z" fill="#00c000"/>
<path d="M430.2 565.8 H435.4 L432.8 570.6 Z" fill="#00c000"/>
<path d="M437.2 565.8 H442.4 L439.8 570.6 Z" fill="#00c000"/>
<path d="M433.5 568.0 H438.7 L436.1 572.8 Z" fill="#00c000"/>
<path d="M431.2 563.8 H436.4 L433.8 568.6 Z" fill="#00c000"/>
<path d="M436.0 563.8 H441.2 L438.6 568.6 Z" fill="#00c000"/>
<path d="M433.5 573.9 H438.7 L436.1 578.7 Z" fill="#00c000"/>
<circle cx="453.50" cy="606.4" r="2.3" fill="#fff" stroke="#000" stroke-width="1.3"/>
<circle cx="455.72" cy="606.4" r="2.3" fill="#fff" stroke="#000" stroke-width="1.3"/>
<circle cx="457.94" cy="606.4" r="2.3" fill="#fff" stroke="#000" stroke-width="1.3"/>
<circle cx="460.16" cy="606.4" r="2.3" fill="#fff" stroke="#000" stroke-width="1.3"/>
<circle cx="462.38" cy="606.4" r="2.3" fill="#fff" stroke="#000" stroke-width="1.3"/>
<circle cx="464.60" cy="606.4" r="2.3" fill="#fff" stroke="#000" stroke-width="1.3"/>
<circle cx="459.05" cy="606.4" r="2.3" fill="#fff" stroke="#000" stroke-width="1.3"/>
</svg></body></html>
